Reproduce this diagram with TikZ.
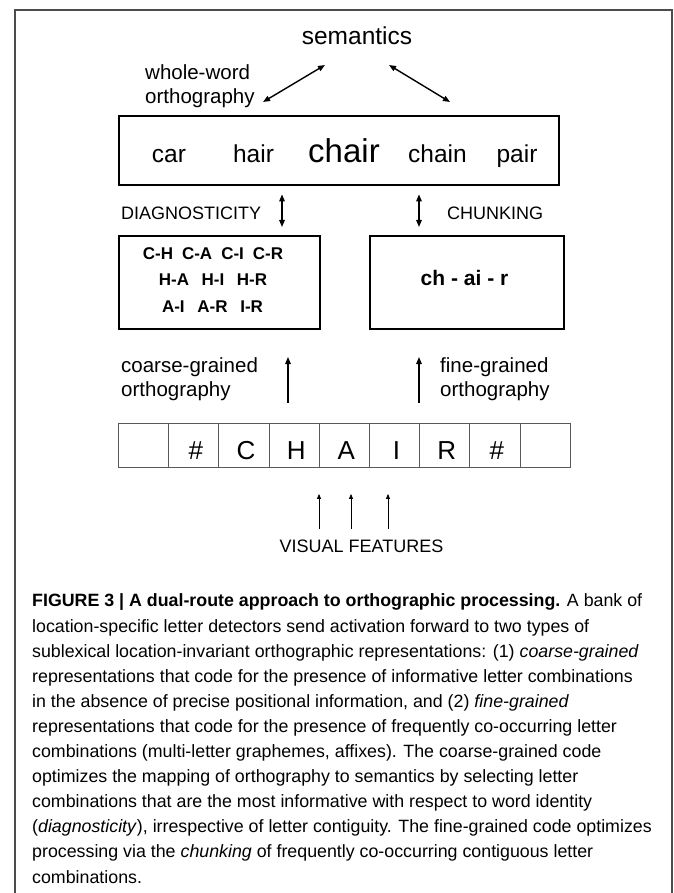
\documentclass[tikz,border=0pt]{standalone}
\usepackage{fontspec}
\setmainfont{Liberation Sans}
\usetikzlibrary{arrows.meta,positioning}
\newcommand{\fsz}[1]{\fontsize{#1}{#1}\selectfont}

\begin{document}
\begin{tikzpicture}[x=1pt,y=-1pt,
every node/.style={inner sep=0pt},
>={Triangle[length=7pt,width=5.5pt]},
word/.style={font=\fsz{24.5},anchor=base},
lbl/.style={font=\fontsize{20.5}{24}\selectfont,anchor=base west,align=left},
caps/.style={font=\fsz{18},anchor=base west},
bigbox/.style={draw,line width=2.4pt,anchor=north west},
smallbox/.style={draw,line width=2pt,anchor=north west},
cell/.style={draw=black!65,line width=0.9pt,minimum width=50.2pt,minimum height=44pt,anchor=north west},
dbl/.style={<->,line width=1.4pt},
up/.style={->,line width=1.4pt},
vf/.style={-{Triangle[length=5pt,width=4pt]},line width=0.8pt}]
\useasboundingbox (0,0) rectangle (673,893);

%frame
\draw[black!70,line width=1.5pt] (15,893) -- (15,10) -- (672,10) -- (672,893);

%top part
\node[font=\fsz{24.5},anchor=base] (sem) at (357,45) {semantics};
%multi-line nodes sit on their last line
\node[lbl] (whole) at (145,104) {whole-word\\orthography};
\node[bigbox,minimum width=440pt,minimum height=69pt] (words) at (118,115) {};
\node[word] (car) at (169,163) {car};
\node[word] (hair) at (253.5,163) {hair};
\node[word,font=\fsz{33}] (chair) at (344,163) {chair};
\node[word] (chain) at (437.5,163) {chain};
\node[word] (pair) at (517,163) {pair};
\coordinate (a1) at (263,102);
\coordinate (a2) at (325,65);
\coordinate (a3) at (389,65);
\coordinate (a4) at (450,102);
\draw[dbl] (a1) -- (a2);
\draw[dbl] (a3) -- (a4);

%middle part
\node[caps] (diag) at (121,219.5) {DIAGNOSTICITY};
\node[caps] (chunking) at (447,219.5) {CHUNKING};
\node[smallbox,minimum width=201pt,minimum height=93pt] (pairs) at (118,235) {};
\node[smallbox,minimum width=194pt,minimum height=93pt] (chunk) at (369,235) {};
\node[font=\bfseries\fsz{17},anchor=base] (p1) at (213,259.5) {C-H\hspace{9pt}C-A\hspace{9pt}C-I\hspace{9pt}C-R};
\node[font=\bfseries\fsz{17},anchor=base] (p2) at (213,285.5) {H-A\hspace{12.5pt}H-I\hspace{12.5pt}H-R};
\node[font=\bfseries\fsz{17},anchor=base] (p3) at (212.5,312) {A-I\hspace{12.7pt}A-R\hspace{12.7pt}I-R};
\node[font=\bfseries\fsz{21},anchor=base] (ch) at (464.5,285.5) {ch - ai - r};
\coordinate (d1) at (282,0);
\coordinate (d2) at (419,0);
\draw[dbl,shorten <=8pt,shorten >=8pt] (words.south -| d1) -- (pairs.north -| d1);
\draw[dbl,shorten <=8pt,shorten >=8pt] (words.south -| d2) -- (chunk.north -| d2);

%letter bank
\node[lbl] (coarse) at (121,396) {coarse-grained\\orthography};
\node[lbl] (fine) at (440,396) {fine-grained\\orthography};
\foreach \i in {1,...,9}
	\node[cell] (c\i) at ({118+(\i-1)*50.2},423) {};
\foreach \t [count=\i from 2] in {\#,C,H,A,I,R,\#}
	\node[font=\fsz{26},anchor=base,xshift=2pt,yshift=8pt] (t\i) at (c\i.south) {\t};
\coordinate (u1) at (288,0);
\coordinate (u2) at (419,0);
\draw[up,shorten <=20pt,shorten >=27pt] (c4.north -| u1) -- (pairs.south -| u1);
\draw[up,shorten <=20pt,shorten >=27pt] (c7.north -| u2) -- (chunk.south -| u2);

%visual features
\node[caps,anchor=base] (vis) at (361.5,552.5) {VISUAL FEATURES};
\foreach \dx in {-42.5,-10.5,26.5}
	\draw[vf,shorten <=10.5pt,shorten >=26pt] ([xshift=\dx pt]vis.north) -- ([xshift=\dx pt]vis.north |- c5.south);

%caption
\node[font=\fontsize{17.8}{25.1}\selectfont,anchor=base west,align=left] (cap) at (32,883) {%
\textbf{FIGURE 3 | A dual-route approach to orthographic processing.} A bank of\\
location-specific letter detectors send activation forward to two types of\\
sublexical location-invariant orthographic representations: (1) \textit{coarse-grained}\\
representations that code for the presence of informative letter combinations\\
in the absence of precise positional information, and (2) \textit{fine-grained}\\
representations that code for the presence of frequently co-occurring letter\\
combinations (multi-letter graphemes, affixes). The coarse-grained code\\
optimizes the mapping of orthography to semantics by selecting letter\\
combinations that are the most informative with respect to word identity\\
(\textit{diagnosticity}), irrespective of letter contiguity. The fine-grained code optimizes\\
processing via the \textit{chunking} of frequently co-occurring contiguous letter\\
combinations.};

\end{tikzpicture}
\end{document}
